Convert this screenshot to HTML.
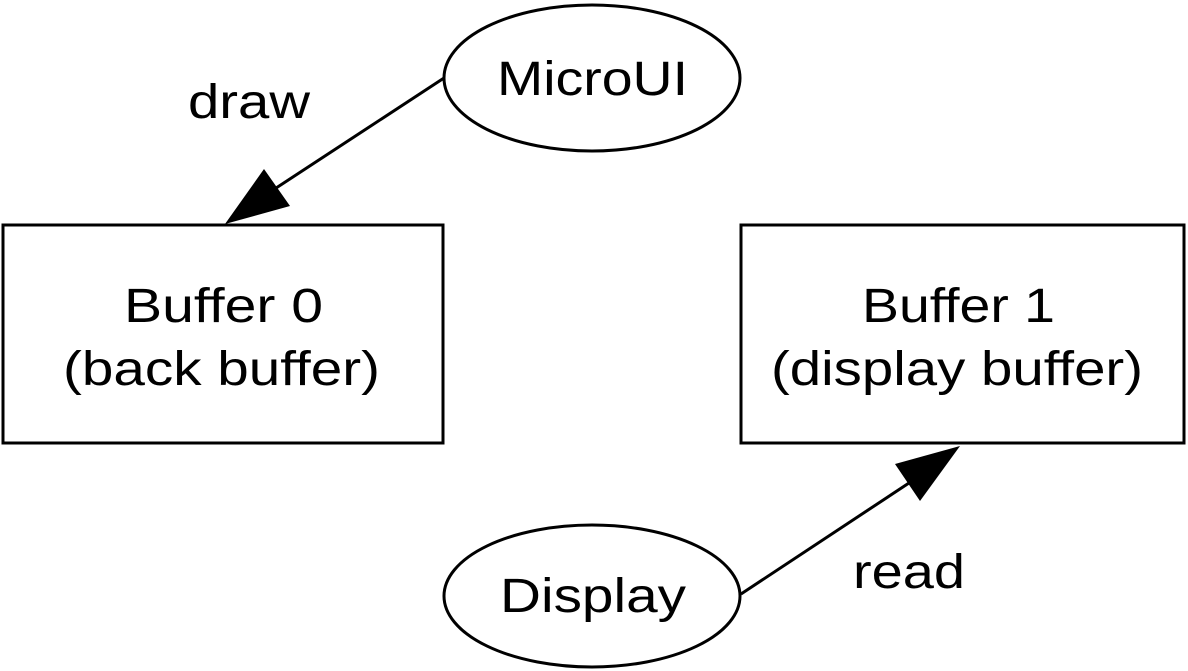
<!DOCTYPE html>
<html><head><meta charset="utf-8"><style>
html,body{margin:0;padding:0;background:#fff;}
svg{display:block;}
text{font-family:"Liberation Sans",sans-serif;font-size:48px;fill:#000;}
</style></head><body>
<svg width="1188" height="671" viewBox="0 0 1188 671" xmlns="http://www.w3.org/2000/svg">
<g fill="none" stroke="#000" stroke-width="3">
<ellipse cx="592" cy="78" rx="148" ry="73"/>
<ellipse cx="592" cy="596" rx="148" ry="71"/>
<rect x="3" y="225" width="440" height="218"/>
<rect x="741" y="225" width="443" height="218"/>
<line x1="444" y1="78" x2="270" y2="192"/>
<line x1="741" y1="594" x2="912" y2="481"/>
</g>
<polygon points="225,224 264,169 290,206" fill="#000"/>
<polygon points="960,446 920,501 895,464" fill="#000"/>
<text x="124" y="322" textLength="199" lengthAdjust="spacingAndGlyphs">Buffer 0</text>
<text x="63" y="385" textLength="317" lengthAdjust="spacingAndGlyphs">(back buffer)</text>
<text x="862" y="322" textLength="193" lengthAdjust="spacingAndGlyphs">Buffer 1</text>
<text x="771" y="385" textLength="372" lengthAdjust="spacingAndGlyphs">(display buffer)</text>
<text x="497" y="95" textLength="191" lengthAdjust="spacingAndGlyphs">MicroUI</text>
<text x="500" y="612" textLength="186" lengthAdjust="spacingAndGlyphs">Display</text>
<text x="188" y="118" textLength="122" lengthAdjust="spacingAndGlyphs">draw</text>
<text x="853" y="588" textLength="112" lengthAdjust="spacingAndGlyphs">read</text>
</svg>
</body></html>
